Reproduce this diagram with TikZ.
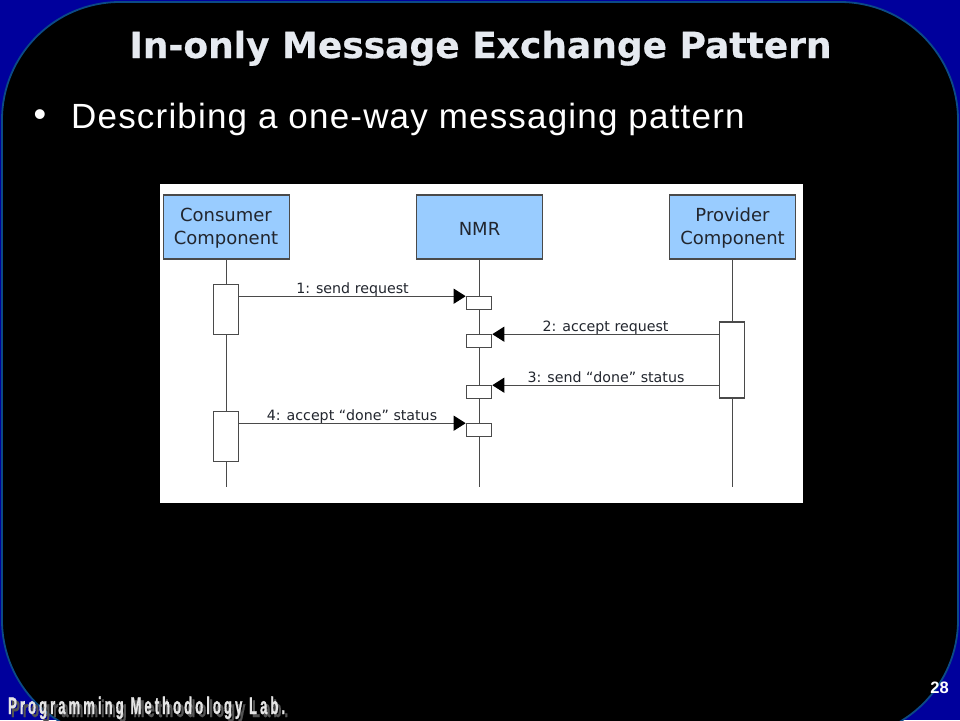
\documentclass[tikz,border=0pt]{standalone}
\usepackage{fontspec}
\setmainfont{Liberation Sans}
\newfontfamily\djfont{DejaVu Sans}
\newfontfamily\djheavy[FakeBold=0.6]{DejaVu Sans Bold}
\newfontfamily\footfont[FakeBold=1.2,LetterSpace=22.6]{Liberation Sans Bold}
\usetikzlibrary{arrows.meta}
\definecolor{slideblue}{HTML}{00009C}
\definecolor{edgeblue}{HTML}{0B4A86}
\definecolor{boxblue}{HTML}{99CCFF}
\definecolor{inkline}{HTML}{4A4A4A}
\definecolor{inktext}{HTML}{22262E}
\definecolor{titlewhite}{HTML}{E6EAF0}
\tikzset{
  x=1pt,y=-1pt,
  headbox/.style={draw=inkline,line width=1.1pt,fill=boxblue,minimum width=126pt,minimum height=64pt,inner sep=0pt},
  headtext/.style={inner sep=0pt,align=center,text=inktext,font=\djfont\fontsize{18}{23}\selectfont},
  actbox/.style={draw=inkline,line width=1.1pt,fill=white,minimum width=25.5pt,inner sep=0pt},
  life/.style={draw=inkline,line width=1.1pt},
  msg/.style={draw=inkline,line width=1.1pt,-{Triangle[length=12pt,width=15pt,fill=black,color=black]}},
  msglabel/.style={anchor=base,text=inktext,inner sep=0pt,font=\djfont\fontsize{14.2}{16}\selectfont},
  titletext/.style={anchor=base,inner sep=0pt,font=\djheavy\fontsize{36}{42}\selectfont},
  foot/.style={inner sep=0pt,anchor=base west,xscale=.55,font=\footfont\fontsize{24}{28}\selectfont},
}
\begin{document}
\begin{tikzpicture}
\useasboundingbox (0,0) rectangle (960,720);
\fill[slideblue] (0,0) rectangle (960,720);
\begin{scope}
\clip (0,0) rectangle (960,720);
\draw[edgeblue,line width=1.8pt,fill=black,rounded corners=118pt] (2,2) rectangle (958,738);
\end{scope}
% title
\node[titletext,text=titlewhite] (title) at (480.5,58) {In-only Message Exchange Pattern};
% bullet
\node[inner sep=0pt,text=white,font=\fontsize{36}{40}\selectfont] (bullet) at (40,118) {•};
\node[inner sep=0pt,anchor=west,text=white,font=\fontsize{35}{40}\selectfont\addfontfeature{LetterSpace=3.4}] (body) at (71,119) {Describing a one-way messaging pattern};
% panel
\fill[white] (160,184) rectangle (803,503);
\node[headbox] (cons) at (226.2,227) {};
\node[headbox] (nmr) at (479.5,227) {};
\node[headbox] (prov) at (732.5,227) {};
\node[headtext] (consl) at (226,228.5) {Consumer\\Component};
\node[headtext] (nmrl) at (479.5,228.5) {NMR};
\node[headtext] (provl) at (732.5,228.5) {Provider\\Component};
\coordinate (consend) at (226.2,487);
\coordinate (nmrend) at (479.5,487);
\coordinate (provend) at (732.5,487);
\draw[life] (cons.south) -- (consend);
\draw[life] (nmr.south) -- (nmrend);
\draw[life] (prov.south) -- (provend);
\node[actbox,minimum height=50.5pt] (ca) at (225.8,309.3) {};
\node[actbox,minimum height=50.5pt] (cb) at (225.8,436.3) {};
\node[actbox,minimum height=76pt] (pa) at (732,360) {};
\node[actbox,minimum height=12.5pt] (na) at (479,303) {};
\node[actbox,minimum height=12.5pt] (nb) at (479,341) {};
\node[actbox,minimum height=12.5pt] (nc) at (479,392) {};
\node[actbox,minimum height=12.5pt] (nd) at (479,430) {};
\draw[msg] (ca.east |- na.north west) -- (na.north west);
\draw[msg] (pa.west |- nb.north east) -- (nb.north east);
\draw[msg] (pa.west |- nc.north east) -- (nc.north east);
\draw[msg] (cb.east |- nd.north west) -- (nd.north west);
\node[msglabel] (la) at (352.5,293.7) {1: send request};
\node[msglabel] (lb) at (605.5,331.7) {2: accept request};
\node[msglabel] (lc) at (606,382.3) {3: send “done” status};
\node[msglabel] (ld) at (352,420) {4: accept “done” status};
% footer
\node[foot,text=gray!65!black] (footshadow) at (11,717) {Programming Methodology Lab.};
\node[foot,text=gray!20] (footer) at (8,714) {Programming Methodology Lab.};
\node[inner sep=0pt,text=white,font=\bfseries\fontsize{16.5}{20}\selectfont] (page) at (939.5,688) {28};
\end{tikzpicture}
\end{document}
